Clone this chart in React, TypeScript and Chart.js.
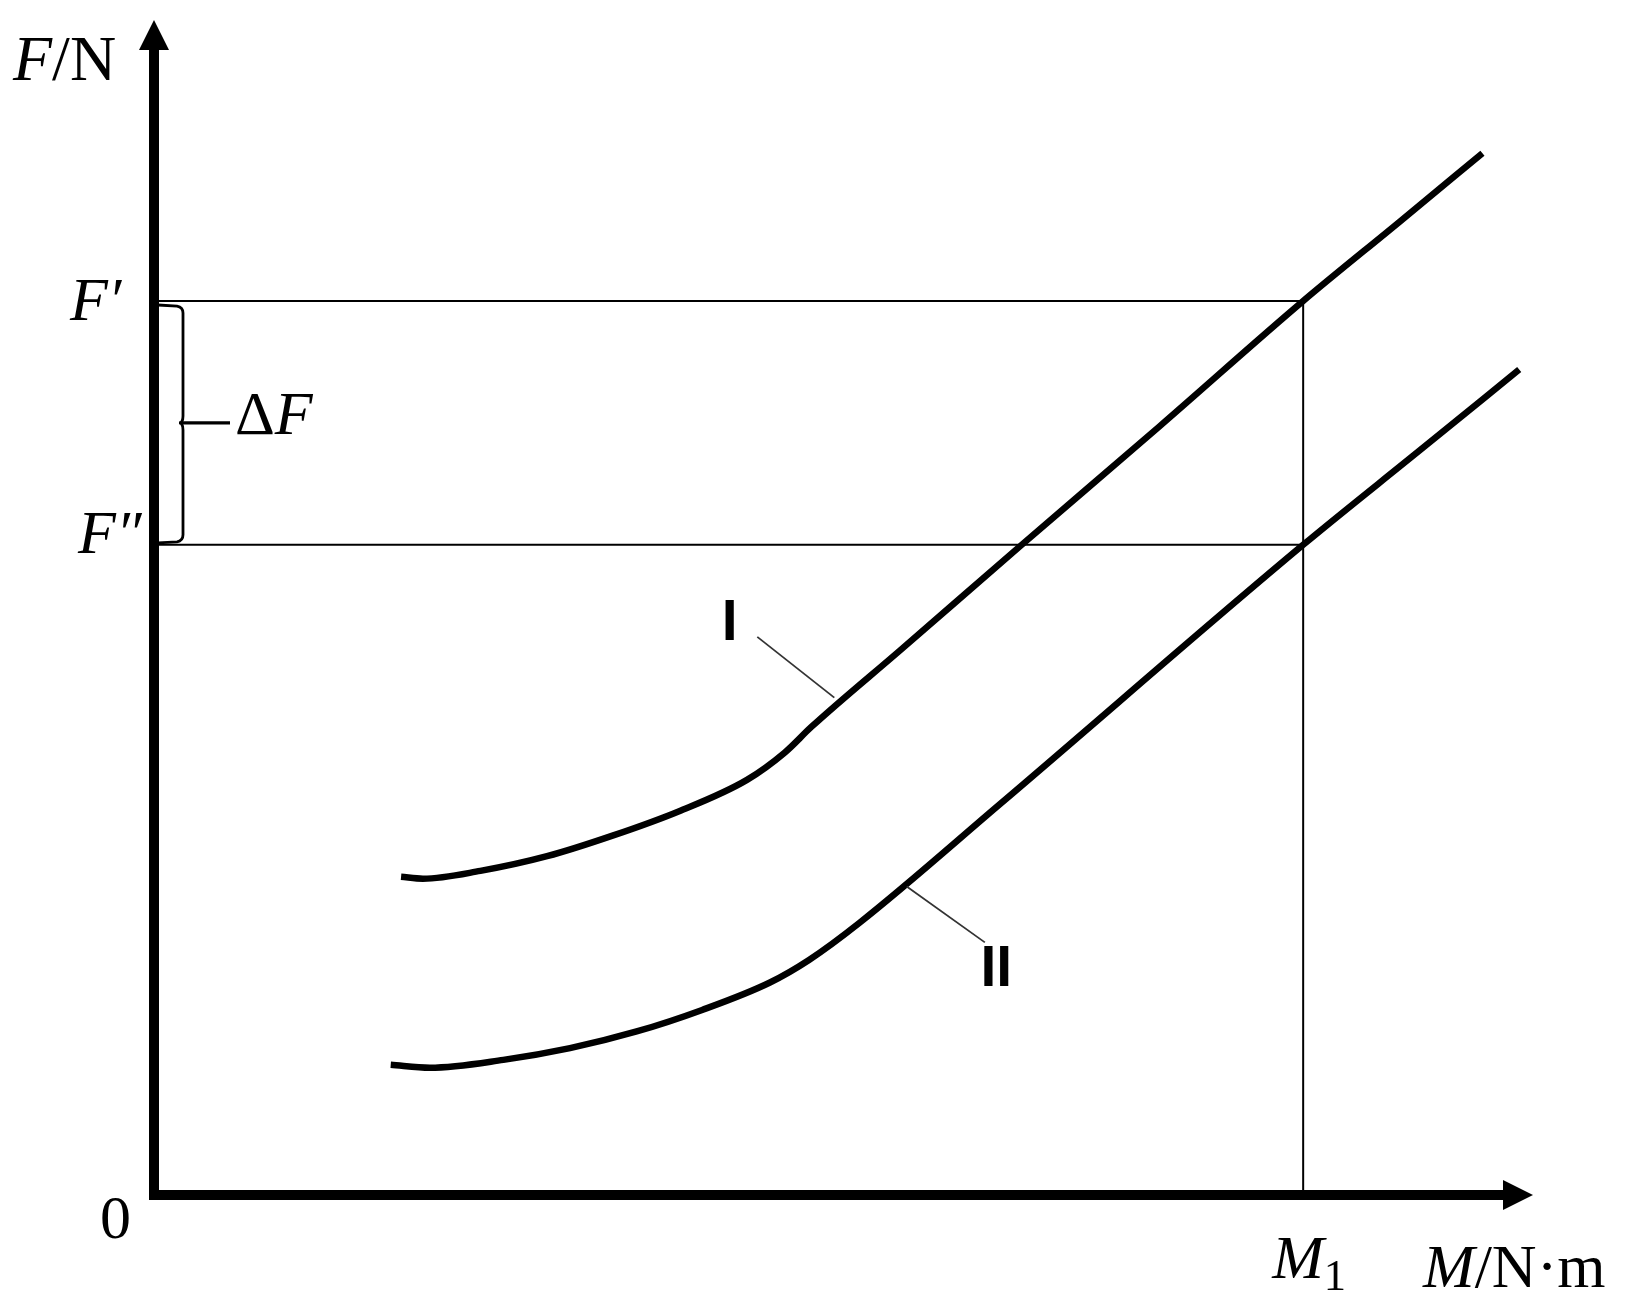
import React, { useEffect, useRef } from "react";
import { Chart, registerables } from "chart.js";

Chart.register(...registerables);

// ---- data (M in arbitrary units, F in arbitrary units) ----
const X_MAX = 12;
const Y_MAX = 12;
const M1 = 10;
const F_PRIME = 9.13;
const F_DPRIME = 6.64;

const curveI_M = [2.15, 2.34, 2.84, 3.42, 3.99, 4.57, 5.16, 5.49, 5.72, 6.49, 7.55, 8.75, 10.0, 10.84, 11.56];
const curveI_F = [3.25, 3.23, 3.31, 3.46, 3.67, 3.92, 4.24, 4.52, 4.78, 5.56, 6.64, 7.85, 9.13, 9.94, 10.64];

const curveII_M = [2.06, 2.4, 3.04, 3.62, 4.2, 4.77, 5.36, 5.7, 6.14, 7.36, 10.0, 11.01, 11.88];
const curveII_F = [1.33, 1.3, 1.38, 1.5, 1.67, 1.89, 2.17, 2.4, 2.78, 3.99, 6.64, 7.6, 8.43];

// curve labels: [labelX, labelY, leaderStartX, leaderStartY, leaderEndX, leaderEndY]
const curveLabels = ["I", "II"];
const labelAnchors = [
  [5.01, 5.85, 5.25, 5.7, 5.92, 5.08],
  [7.33, 2.32, 7.23, 2.58, 6.55, 3.15],
];

const axisTitleY = [{ t: "F", italic: true }, { t: "/N" }];
const axisTitleX = [{ t: "M", italic: true }, { t: "/N·m" }];
const tickM1 = [{ t: "M", italic: true }, { t: "1", sub: true }];
const tickFPrime = [{ t: "F", italic: true }, { t: "′", italic: true }];
const tickFDPrime = [{ t: "F", italic: true }, { t: "″", italic: true }];
const deltaLabel = [{ t: "Δ" }, { t: "F", italic: true }];
const originLabel = [{ t: "0" }];

const SERIF = '"Liberation Serif", "Times New Roman", serif';

type Part = { t: string; italic?: boolean; sub?: boolean };

function drawRich(ctx: CanvasRenderingContext2D, parts: Part[], x: number, y: number, size: number) {
  let cx = x;
  ctx.textBaseline = "alphabetic";
  ctx.textAlign = "left";
  for (const p of parts) {
    const fs = p.sub ? size * 0.72 : size;
    ctx.font = `${p.italic ? "italic " : ""}${fs}px ${SERIF}`;
    ctx.fillText(p.t, cx, y + (p.sub ? size * 0.19 : 0));
    cx += ctx.measureText(p.t).width;
  }
}

const decorPlugin = {
  id: "decor",
  afterDatasetsDraw(chart: any) {
    const ctx: CanvasRenderingContext2D = chart.ctx;
    const xs = chart.scales.x;
    const ys = chart.scales.y;
    const ox = xs.getPixelForValue(0);
    const oy = ys.getPixelForValue(0);
    const top = ys.getPixelForValue(Y_MAX);
    const right = xs.getPixelForValue(X_MAX);
    ctx.save();
    ctx.fillStyle = "#000";
    ctx.strokeStyle = "#000";

    // axes
    const aw = 10;
    const ah = 30;
    const hw = 15;
    ctx.fillRect(ox - aw / 2, top + ah - 1, aw, oy + aw / 2 - (top + ah - 1));
    ctx.fillRect(ox - aw / 2, oy - aw / 2, right - ah + 1 - (ox - aw / 2), aw);
    ctx.beginPath();
    ctx.moveTo(ox, top);
    ctx.lineTo(ox - hw, top + ah);
    ctx.lineTo(ox + hw, top + ah);
    ctx.closePath();
    ctx.fill();
    ctx.beginPath();
    ctx.moveTo(right, oy);
    ctx.lineTo(right - ah, oy - hw);
    ctx.lineTo(right - ah, oy + hw);
    ctx.closePath();
    ctx.fill();

    // brace for ΔF
    const yA = ys.getPixelForValue(F_PRIME);
    const yB = ys.getPixelForValue(F_DPRIME);
    const yM = (yA + yB) / 2;
    const bx = ox + 29;
    ctx.lineWidth = 2.8;
    ctx.beginPath();
    ctx.moveTo(ox + 4, yA + 4);
    ctx.lineTo(bx - 6, yA + 5);
    ctx.quadraticCurveTo(bx, yA + 6, bx, yA + 12);
    ctx.lineTo(bx, yM - 7);
    ctx.quadraticCurveTo(bx, yM, bx - 4, yM);
    ctx.quadraticCurveTo(bx, yM, bx, yM + 7);
    ctx.lineTo(bx, yB - 10);
    ctx.quadraticCurveTo(bx, yB - 4, bx - 6, yB - 3);
    ctx.lineTo(ox + 4, yB - 2);
    ctx.stroke();
    ctx.lineWidth = 3.2;
    ctx.beginPath();
    ctx.moveTo(bx - 2, yM);
    ctx.lineTo(bx + 47, yM);
    ctx.stroke();

    // curve labels and leaders
    ctx.lineWidth = 1.8;
    ctx.strokeStyle = "#333";
    curveLabels.forEach((lab, i) => {
      const a = labelAnchors[i];
      ctx.beginPath();
      ctx.moveTo(xs.getPixelForValue(a[2]), ys.getPixelForValue(a[3]));
      ctx.lineTo(xs.getPixelForValue(a[4]), ys.getPixelForValue(a[5]));
      ctx.stroke();
      ctx.font = `bold 57px "Liberation Sans", Arial, sans-serif`;
      ctx.textAlign = "center";
      ctx.textBaseline = "middle";
      ctx.fillText(lab, xs.getPixelForValue(a[0]), ys.getPixelForValue(a[1]) + 2);
    });

    // texts
    const fs = 62;
    drawRich(ctx, axisTitleY, 13, top + 60, 64);
    drawRich(ctx, tickFPrime, 70, yA + 19, fs);
    drawRich(ctx, tickFDPrime, 78, yB + 8, fs);
    drawRich(ctx, deltaLabel, 235, yM + 11, fs);
    drawRich(ctx, originLabel, ox - 54, oy + 43, fs);
    drawRich(ctx, tickM1, xs.getPixelForValue(M1) - 31, oy + 83, fs);
    drawRich(ctx, axisTitleX, right - 110, oy + 92, fs);

    ctx.restore();
  },
};

export default function App() {
  const ref = useRef<HTMLCanvasElement | null>(null);
  useEffect(() => {
    if (!ref.current) return;
    const thin = { borderColor: "#000", borderWidth: 2, pointRadius: 0, tension: 0, fill: false };
    const chart = new Chart(ref.current, {
      type: "line",
      data: {
        datasets: [
          {
            label: "I",
            data: curveI_M.map((m, i) => ({ x: m, y: curveI_F[i] })),
            borderColor: "#000",
            borderWidth: 6.5,
            pointRadius: 0,
            cubicInterpolationMode: "monotone",
            fill: false,
          },
          {
            label: "II",
            data: curveII_M.map((m, i) => ({ x: m, y: curveII_F[i] })),
            borderColor: "#000",
            borderWidth: 6.5,
            pointRadius: 0,
            cubicInterpolationMode: "monotone",
            fill: false,
          },
          { label: "F'", data: [{ x: 0, y: F_PRIME }, { x: M1, y: F_PRIME }], ...thin },
          { label: "F''", data: [{ x: 0, y: F_DPRIME }, { x: M1, y: F_DPRIME }], ...thin },
          { label: "M1", data: [{ x: M1, y: 0 }, { x: M1, y: F_PRIME }], ...thin },
        ] as any,
      },
      options: {
        responsive: false,
        animation: false,
        devicePixelRatio: 1,
        layout: { padding: { left: 154, top: 20, right: 100, bottom: 112 } },
        plugins: { legend: { display: false }, tooltip: { enabled: false } },
        scales: {
          x: { type: "linear", min: 0, max: X_MAX, display: false },
          y: { type: "linear", min: 0, max: Y_MAX, display: false },
        },
      } as any,
      plugins: [decorPlugin],
    });
    return () => chart.destroy();
  }, []);
  return (
    <div style={{ position: "absolute", left: 0, top: 0, width: 1633, height: 1307, background: "#fff" }}>
      <canvas ref={ref} width={1633} height={1307} />
    </div>
  );
}
